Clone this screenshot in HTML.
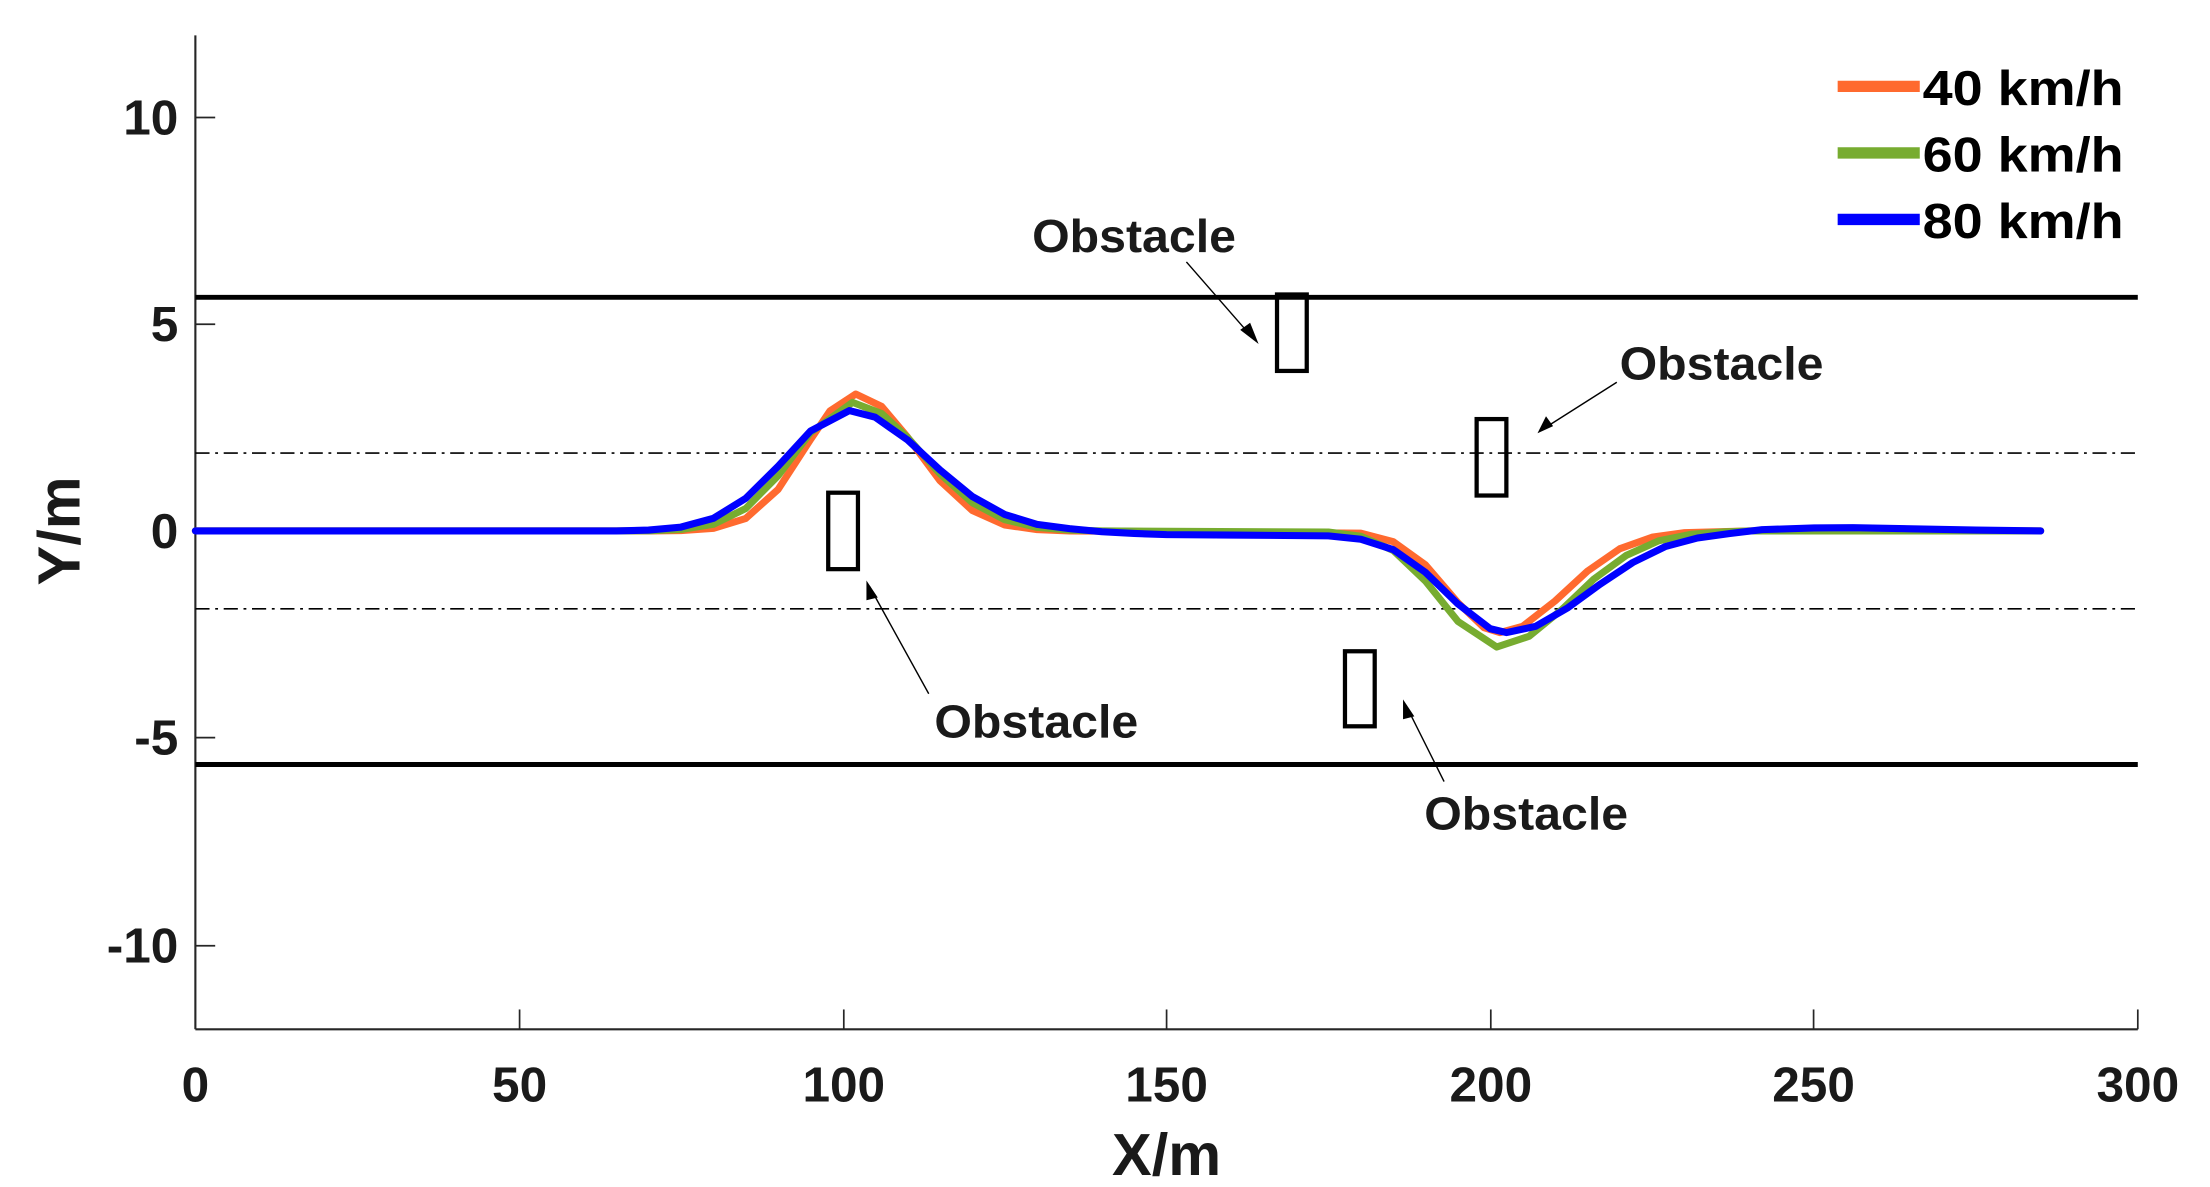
<!DOCTYPE html>
<html><head><meta charset="utf-8"><style>
html,body{margin:0;padding:0;background:#fff;}
svg{display:block}
text{font-family:"Liberation Sans",Arial,sans-serif;font-weight:bold;fill:#1a1a1a}
</style></head><body>
<svg width="2210" height="1187" viewBox="0 0 1561 838.4" preserveAspectRatio="none" xmlns="http://www.w3.org/2000/svg">
<rect width="1561" height="840" fill="#fff"/>
<line x1="138" y1="25" x2="138" y2="727" stroke="#262626" stroke-width="1.5"/>
<line x1="138" y1="727" x2="1510" y2="727" stroke="#262626" stroke-width="1.5"/>
<g stroke="#262626" stroke-width="1.2">
<line x1="367" y1="727" x2="367" y2="713"/><line x1="596" y1="727" x2="596" y2="713"/>
<line x1="824" y1="727" x2="824" y2="713"/><line x1="1053" y1="727" x2="1053" y2="713"/>
<line x1="1281" y1="727" x2="1281" y2="713"/><line x1="1510" y1="727" x2="1510" y2="713"/>
<line x1="138" y1="83" x2="152" y2="83"/><line x1="138" y1="229" x2="152" y2="229"/>
<line x1="138" y1="375" x2="152" y2="375"/><line x1="138" y1="521" x2="152" y2="521"/>
<line x1="138" y1="668" x2="152" y2="668"/>
</g>
<g font-size="35" text-anchor="middle">
<text x="138" y="778">0</text><text x="367" y="778">50</text><text x="596" y="778">100</text>
<text x="824" y="778">150</text><text x="1053" y="778">200</text><text x="1281" y="778">250</text><text x="1510" y="778">300</text>
</g>
<g font-size="35" text-anchor="end">
<text x="126" y="95">10</text><text x="126" y="241">5</text><text x="126" y="387">0</text>
<text x="126" y="533">-5</text><text x="126" y="680">-10</text>
</g>
<text x="824" y="830" font-size="42" text-anchor="middle">X/m</text>
<text transform="translate(56,375) rotate(-90)" font-size="42" text-anchor="middle">Y/m</text>
<line x1="138" y1="210" x2="1510" y2="210" stroke="#000" stroke-width="3.5"/>
<line x1="138" y1="540" x2="1510" y2="540" stroke="#000" stroke-width="3.5"/>
<line x1="138" y1="320" x2="1510" y2="320" stroke="#000" stroke-width="1.2" stroke-dasharray="10,4,2,4"/>
<line x1="138" y1="430" x2="1510" y2="430" stroke="#000" stroke-width="1.2" stroke-dasharray="10,4,2,4"/>
<g fill="none" stroke="#000" stroke-width="3">
<rect x="902" y="208" width="21" height="54"/>
<rect x="1043" y="296" width="21" height="54"/>
<rect x="585" y="348" width="21" height="54"/>
<rect x="950" y="460" width="21" height="53"/>
</g>
<g fill="none" stroke-width="5" stroke-linejoin="round" stroke-linecap="round">
<polyline stroke="#FF6A2F" points="138,375 458.1,375 481,374.8 503.9,373.2 526.7,366.2 549.6,345.7 572.5,310.5 586.2,290.3 604.5,278.3 622.8,287.1 641.1,308.8 663.9,339.5 686.8,360.6 709.7,370.8 732.5,374.1 755.4,375 961.2,376.6 984.1,382.6 1006.9,399 1029.8,425.7 1048.1,443.3 1059.5,446.8 1075.5,442.4 1098.4,424.5 1121.3,403.4 1144.1,387.6 1167,379.4 1189.9,376.2 1235.6,375 1441.4,375"/>
<polyline stroke="#77AC30" points="138,375 435.3,375 458.1,374.9 481,374 503.9,370.3 526.7,359.2 549.6,336 572.5,305.6 602.2,284.2 622.8,292.1 641.1,309.1 663.9,334.6 686.8,355.1 709.7,367.1 732.5,372.5 755.4,374.4 778.3,375 938.3,375.8 961.2,378.8 984.1,388.8 1006.9,410.5 1029.8,438.9 1057.2,457 1080.1,449.4 1103,430.7 1125.8,409 1148.7,392.3 1171.6,382 1194.4,377.4 1217.3,375.7 1235.6,375 1441.4,375"/>
<polyline stroke="#0000FF" points="138,375 412.4,375 435.3,375 458.1,374.4 481,372.3 503.9,366.1 526.7,352 549.6,329.3 572.5,304.4 599.9,290 618.2,294.7 641.1,310.8 663.9,331.9 686.8,350.7 709.7,363.4 732.5,370.4 755.4,373.4 778.3,375.6 801.1,376.8 824,377.6 869.7,377.9 938.3,378.5 961.2,380.9 984.1,388.2 1006.9,404.3 1029.8,426.6 1052.7,444.1 1064.1,446.8 1084.7,442.4 1107.5,429.2 1130.4,412.5 1153.3,397.3 1176.1,386.1 1199,380 1221.9,376.8 1244.7,374.1 1281.3,372.9 1308.8,372.7 1349.9,373.5 1395.7,374.4 1441.4,375"/>
</g>
<g stroke="#000" stroke-width="1" fill="none">
<line x1="838" y1="185" x2="886" y2="240"/>
<line x1="1142" y1="270" x2="1090" y2="303"/>
<line x1="656" y1="490" x2="614" y2="414"/>
<line x1="1020" y1="552" x2="993" y2="498"/>
</g>
<g fill="#000">
<polygon points="889,243 876,233 883,228"/>
<polygon points="1086,306 1092,294 1097,301"/>
<polygon points="612,410 620,422 612,424"/>
<polygon points="991,494 999,506 991,508"/>
</g>
<g font-size="33">
<text x="729" y="178" textLength="144" lengthAdjust="spacingAndGlyphs">Obstacle</text>
<text x="1144" y="268" textLength="144" lengthAdjust="spacingAndGlyphs">Obstacle</text>
<text x="660" y="521" textLength="144" lengthAdjust="spacingAndGlyphs">Obstacle</text>
<text x="1006" y="586" textLength="144" lengthAdjust="spacingAndGlyphs">Obstacle</text>
</g>
<g stroke-width="8">
<line x1="1298" y1="61" x2="1356" y2="61" stroke="#FF6A2F"/>
<line x1="1298" y1="108" x2="1356" y2="108" stroke="#77AC30"/>
<line x1="1298" y1="155" x2="1356" y2="155" stroke="#0000FF"/>
</g>
<g font-size="35">
<text x="1358" y="74" style="fill:#000" textLength="142" lengthAdjust="spacingAndGlyphs">40 km/h</text>
<text x="1358" y="121" style="fill:#000" textLength="142" lengthAdjust="spacingAndGlyphs">60 km/h</text>
<text x="1358" y="168" style="fill:#000" textLength="142" lengthAdjust="spacingAndGlyphs">80 km/h</text>
</g>
</svg>
</body></html>
